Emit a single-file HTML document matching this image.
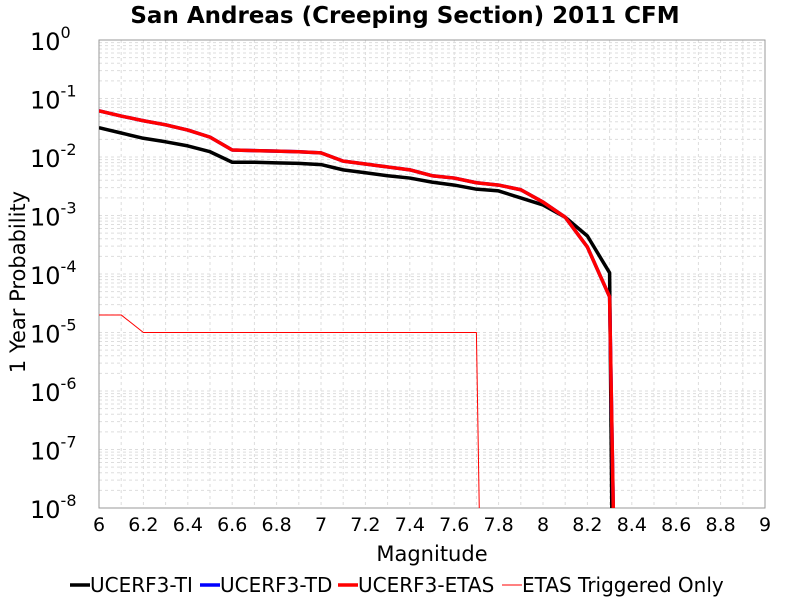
<!DOCTYPE html>
<html><head><meta charset="utf-8"><style>
html,body{margin:0;background:#fff;overflow:hidden;width:800px;height:600px;font-family:"Liberation Sans","DejaVu Sans",sans-serif}
svg{display:block}
svg text{font-family:"DejaVu Sans","Liberation Sans",sans-serif}
</style></head><body>
<svg id="c" width="800" height="600">
<defs><clipPath id="clp"><rect x="99" y="40" width="666" height="468"/></clipPath></defs>
<text x="405" y="23" text-anchor="middle" font-size="23" font-weight="bold">San Andreas (Creeping Section) 2011 CFM</text>
<g id="grid"></g><g id="axes"></g><g id="series" clip-path="url(#clp)"></g>
<text x="432" y="561" text-anchor="middle" font-size="21">Magnitude</text>
<text transform="translate(25,282) rotate(-90)" text-anchor="middle" font-size="21">1 Year Probability</text>
<g id="legend"></g>
</svg>
<script>
const mags=[6.0,6.1,6.2,6.3,6.4,6.5,6.6,6.7,6.8,6.9,7.0,7.1,7.2,7.3,7.4,7.5,7.6,7.7,7.8,7.9,8.0,8.1,8.2,8.3,8.32];
const tiLog=[-1.50,-1.59,-1.68,-1.74,-1.81,-1.91,-2.09,-2.09,-2.10,-2.11,-2.13,-2.22,-2.27,-2.32,-2.36,-2.43,-2.48,-2.55,-2.58,-2.70,-2.82,-3.03,-3.35,-3.98,-12];
const etasMags=[6.0,6.1,6.2,6.3,6.4,6.5,6.6,6.7,6.8,6.9,7.0,7.1,7.2,7.3,7.4,7.5,7.6,7.7,7.8,7.9,8.0,8.1,8.2,8.3,8.335];
const tdLog=[-1.21,-1.30,-1.38,-1.45,-1.54,-1.66,-1.88,-1.89,-1.90,-1.91,-1.93,-2.07,-2.12,-2.17,-2.22,-2.32,-2.36,-2.44,-2.48,-2.56,-2.77,-3.03,-3.54,-4.39,-12];
const etasLog=tdLog.slice();
const trigMags=[6.0,6.1,6.2,6.3,6.4,6.5,6.6,6.7,6.8,6.9,7.0,7.1,7.2,7.3,7.4,7.5,7.6,7.7,7.73];
const trigLog=[-4.7,-4.7,-5,-5,-5,-5,-5,-5,-5,-5,-5,-5,-5,-5,-5,-5,-5,-5,-12];
const xTicks=["6","6.2","6.4","6.6","6.8","7","7.2","7.4","7.6","7.8","8","8.2","8.4","8.6","8.8","9"];
const yExps=["0","-1","-2","-3","-4","-5","-6","-7","-8"];
const X=m=>99+(m-6)*222, Y=l=>40+(-l)*58.5;
const NS="http://www.w3.org/2000/svg";
function mk(t,a,p){const e=document.createElementNS(NS,t);for(const k in a)e.setAttribute(k,a[k]);p.appendChild(e);return e;}
const grid=document.getElementById('grid'),axes=document.getElementById('axes');
for(let i=1;i<30;i++){const x=X(6+i*0.1);const gl=mk('line',{x1:x,x2:x,y1:40,y2:508,stroke:'#ddd','stroke-dasharray':'3,3'},grid);
}
for(let d=0;d<8;d++)for(let k=1;k<10;k++){const y=Y(-d-1+Math.log10(k));const gl=mk('line',{x1:99,x2:765,y1:y,y2:y,stroke:'#ddd','stroke-dasharray':'3,3'},grid);
}
const fr=mk('rect',{x:99,y:40,width:666,height:468,fill:'none',stroke:'#999'},axes);

xTicks.forEach(t=>{const tx=mk('text',{x:X(+t),y:531,'text-anchor':'middle','font-size':19},axes);tx.textContent=t;
});
yExps.forEach(e=>{const tx=mk('text',{x:30,y:Y(+e)+10,'font-size':24},axes);tx.textContent='10';
const s=mk('tspan',{dy:-12,'font-size':16},tx);s.textContent=e;
});
const ser=document.getElementById('series');
function line(xs,ys,col,w,name){const p=mk('polyline',{points:xs.map((m,i)=>X(m)+','+Y(ys[i])).join(' '),fill:'none',stroke:col,'stroke-width':w,'stroke-linejoin':'round'},ser);
}
line(mags,tiLog,'#000',3.5,'series-ucerf3-ti');
line(etasMags,tdLog,'#00f',3.5,'series-ucerf3-td');
line(etasMags,etasLog,'#f00',3.5,'series-ucerf3-etas');
line(trigMags,trigLog,'#f00',1,'series-etas-triggered');
const lg=document.getElementById('legend');
[["UCERF3-TI",'#000',3.5,70],["UCERF3-TD",'#00f',3.5,200],["UCERF3-ETAS",'#f00',3.5,338],["ETAS Triggered Only",'#f00',1,502]].forEach(([n,c,w,x])=>{
const g=mk('g',{},lg);
mk('line',{x1:x,x2:x+20,y1:585,y2:585,stroke:c,'stroke-width':w},g);
const t=mk('text',{x:x+20,y:592,'font-size':20},g);t.textContent=n;});
</script>
</body></html>
